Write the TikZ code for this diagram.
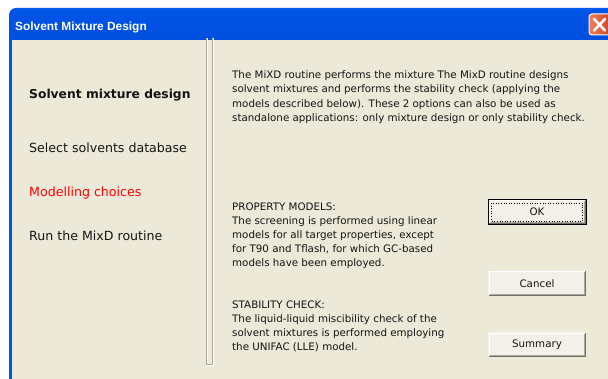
\documentclass[tikz,border=0pt]{standalone}
\usepackage{fontspec}
\setmainfont{DejaVu Sans}
\newfontfamily\titlefont{Liberation Sans}
\usetikzlibrary{calc}

\definecolor{winface}{RGB}{236,233,216}
\definecolor{winblue}{RGB}{0,84,227}
\definecolor{edgegray}{RGB}{172,168,153}
\definecolor{edgedark}{RGB}{113,111,100}
\definecolor{btnface}{RGB}{242,240,232}
\definecolor{bodytext}{RGB}{20,20,20}
\definecolor{tbA}{RGB}{0,60,205}
\definecolor{tbB}{RGB}{0,78,222}
\definecolor{tbC}{RGB}{0,84,230}
\definecolor{tbD}{RGB}{40,125,250}
\definecolor{tbE}{RGB}{20,98,238}
\definecolor{closeA}{RGB}{236,128,94}
\definecolor{closeB}{RGB}{206,62,28}

\pgfdeclareverticalshading{titlebar}{100bp}{%
  color(0bp)=(tbA); color(12bp)=(tbB); color(72bp)=(tbC);
  color(90bp)=(tbD); color(100bp)=(tbE)}

\tikzset{
  menuitem/.style={anchor=base west, inner sep=0pt, text=bodytext, font=\fontsize{12.6}{15}\selectfont},
  bodyline/.style={anchor=base west, inner sep=0pt, text=bodytext, font=\fontsize{10.3}{14}\selectfont},
  button/.style={minimum width=98pt, minimum height=25pt, inner sep=0pt,
    fill=btnface, text=bodytext, font=\fontsize{10.3}{12}\selectfont,
    path picture={
      \draw[white, line width=1pt]
        ([xshift=1pt,yshift=1.5pt]path picture bounding box.south west) |-
        ([xshift=-1.5pt,yshift=-1pt]path picture bounding box.north east);
      \draw[edgedark, line width=1pt]
        ([xshift=0.5pt,yshift=0.5pt]path picture bounding box.south west) -|
        ([xshift=-0.5pt,yshift=-0.5pt]path picture bounding box.north east);
      \draw[edgegray, line width=1pt]
        ([xshift=1.5pt,yshift=1.5pt]path picture bounding box.south west) -|
        ([xshift=-1.5pt,yshift=-1.5pt]path picture bounding box.north east);
    }},
  defaultbutton/.style={button, draw=black, line width=1pt},
}

\begin{document}
\begin{tikzpicture}[x=1pt, y=-1pt]
\useasboundingbox (0,0) rectangle (608,379);
\clip (0,0) rectangle (608,379);
\fill[white] (0,0) rectangle (608,379);

% dialog client area
\fill[winface] (9,39) rectangle (620,385);
% left window frame
\fill[winblue] (9,39) rectangle (12,385);

% title bar
\shade[shading=titlebar] (9,40) [rounded corners=7pt] -- (9,8) [sharp corners] -- (620,8) -- (620,40) -- cycle;
\node[anchor=base west, inner sep=0pt, text=white,
      font=\titlefont\bfseries\fontsize{11.9}{14}\selectfont] (title) at (15,31) {Solvent Mixture Design};

% close button
\node[draw=white, line width=1pt, rounded corners=3pt, minimum width=24pt, minimum height=21pt,
      inner sep=0pt, left color=closeA, right color=closeB] (close) at (601,24.5) {};
\draw[white, line width=2.6pt, line cap=round]
  ([xshift=5.5pt,yshift=-5.5pt]close.north west) -- ([xshift=16.5pt,yshift=5pt]close.south west)
  ([xshift=16.5pt,yshift=-5.5pt]close.north west) -- ([xshift=5.5pt,yshift=5pt]close.south west);

% etched divider between the step list and the page
\draw[edgegray, line width=1pt] (206.5,38) -- (206.5,364.5) -- (212.5,364.5) -- (212.5,38);
\draw[white, line width=1pt] (207.5,38) -- (207.5,363.5);
\draw[white, line width=1pt] (205.5,365.5) -- (213.5,365.5) -- (213.5,38);

% step list
\node[menuitem, font=\bfseries\fontsize{12.3}{15}\selectfont] (s1) at (29,99) {Solvent mixture design};
\node[menuitem] (s2) at (29,152.7) {Select solvents database};
\node[menuitem, text=red] (s3) at (29,196.7) {Modelling choices};
\node[menuitem] (s4) at (29,240.3) {Run the MixD routine};

% description text
\foreach \t [count=\i] in {
  {The MiXD routine performs the mixture The MixD routine designs},
  {solvent mixtures and performs the stability check (applying the},
  {models described below). These 2 options can also be used as},
  {standalone applications: only mixture design or only stability check.}}
  \node[bodyline] (intro\i) at (232, 78.5+14.3*\i-14.3) {\t};

\foreach \t [count=\i] in {
  {PROPERTY MODELS:},
  {The screening is performed using linear},
  {models for all target properties, except},
  {for T90 and Tflash, for which GC-based},
  {models have been employed.}}
  \node[bodyline] (prop\i) at (232, 210.5+14.1*\i-14.1) {\t};

\foreach \t [count=\i] in {
  {STABILITY CHECK:},
  {The liquid-liquid miscibility check of the},
  {solvent mixtures is performed employing},
  {the UNIFAC (LLE) model.}}
  \node[bodyline] (stab\i) at (232, 309+14*\i-14) {\t};

% buttons
\node[defaultbutton] (ok) at (537,212) {OK};
\draw[black, line width=0.6pt, dotted]
  ([xshift=4pt,yshift=-4pt]ok.north west) rectangle ([xshift=-4pt,yshift=4pt]ok.south east);
\node[button] (cancel) at (537,283.5) {Cancel};
\node[button] (summary) at (537,345) {Summary};
\end{tikzpicture}
\end{document}
